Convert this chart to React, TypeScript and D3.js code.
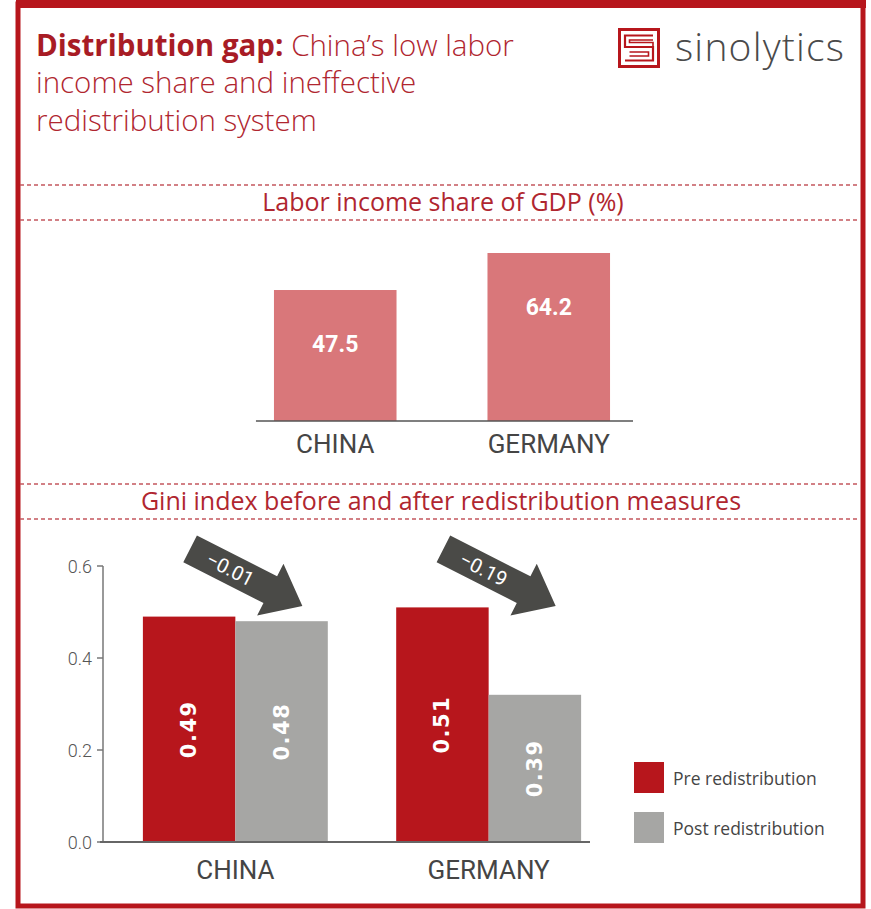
import React from "react";
import * as d3 from "d3";

const laborCountries = ["CHINA", "GERMANY"];
const laborShare = [47.5, 64.2];
const laborLabels = ["47.5", "64.2"];

const giniCountries = ["CHINA", "GERMANY"];
const seriesKeys = ["pre", "post"];
const seriesNames = ["Pre redistribution", "Post redistribution"];
const giniPre = [0.49, 0.51];
const giniPost = [0.48, 0.32];
const giniPreLabels = ["0.49", "0.51"];
const giniPostLabels = ["0.48", "0.39"];
const changeLabels = ["\u22120.01", "\u22120.19"];
const giniTicks = [0, 0.2, 0.4, 0.6];

const RED = "#b7161c";
const TITLE_RED = "#b0262f";
const GREY_BAR = "#a6a6a4";
const PINK = "#d9777a";
const TXT = "#454545";
const ARROW = "#4a4a47";
const SANS = "'Open Sans', sans-serif";

export default function App() {
  const W = 871;
  const H = 909;

  // top chart
  const xTop = d3.scaleBand().domain(laborCountries).range([183, 701]).paddingInner(0.426).paddingOuter(0.426);
  const yTop = d3.scaleLinear().domain([-11.6, 64.2]).range([421, 253]);
  const topBase = yTop(-11.6);
  const bwTop = xTop.bandwidth();

  // bottom chart
  const x0 = d3.scaleBand().domain(giniCountries).range([74.5, 649.5]).paddingInner(0.27).paddingOuter(0.27);
  const x1 = d3.scaleBand().domain(seriesKeys).range([0, x0.bandwidth()]).padding(0);
  const y = d3.scaleLinear().domain([0, 0.6]).range([842, 566]);
  const color = d3.scaleOrdinal<string, string>().domain(seriesKeys).range([RED, GREY_BAR]);
  const axisX = 103;

  const giniRows = giniCountries.map((c, i) => ({
    country: c,
    values: [
      { key: "pre", v: giniPre[i], label: giniPreLabels[i] },
      { key: "post", v: giniPost[i], label: giniPostLabels[i] },
    ],
  }));

  const arrowPath = "M-62,-15 L28,-15 L28,-29 L64,0 L28,29 L28,15 L-62,15 Z";

  return (
    <svg width={W} height={H} style={{ position: "absolute", left: 0, top: 0, background: "#fff" }}>
      <rect x={0} y={0} width={W} height={H} fill="#fff" />
      {/* frame */}
      <rect x={18} y={4} width={845} height={902} fill="none" stroke={RED} strokeWidth={5} />
      <rect x={16} y={0} width={850} height={8} fill={RED} />

      {/* title */}
      <text x={36} y={56} fontFamily={SANS} fontSize={29.5} fontWeight={300} fill={TITLE_RED}>
        <tspan fontWeight={700} fill="#a81c25">Distribution gap: </tspan>
        <tspan>China’s low labor</tspan>
      </text>
      <text x={36} y={93} fontFamily={SANS} fontSize={29.5} fontWeight={300} fill={TITLE_RED}>
        income share and ineffective
      </text>
      <text x={36} y={131} fontFamily={SANS} fontSize={29.5} fontWeight={300} fill={TITLE_RED}>
        redistribution system
      </text>

      {/* logo */}
      <g>
        <rect x={619.5} y={29.5} width={39} height={37} fill="none" stroke={RED} strokeWidth={3} />
        <path d="M653,35.5 H625 V47 H653 V60.5 H625" fill="none" stroke={RED} strokeWidth={2.2} />
        <path d="M653,40 H629.5 V42.5 H653 V52 H653 M629.5,56 H648.5 V52 H629.5" fill="none" stroke={RED} strokeWidth={1.6} />
        <text x={675} y={61} fontFamily={SANS} fontWeight={300} fontSize={39} letterSpacing={1.2} fill="#4a4a4a">
          sinolytics
        </text>
      </g>

      {/* dashed separators */}
      {[185, 220, 484, 519].map((yy) => (
        <line key={yy} x1={20} x2={860} y1={yy} y2={yy} stroke="#c4575d" strokeWidth={1.3} strokeDasharray="4 3" />
      ))}
      <text x={443} y={211} textAnchor="middle" fontFamily={SANS} fontWeight={500} fontSize={25} fill={TITLE_RED}>
        Labor income share of GDP (%)
      </text>
      <text x={441} y={510} textAnchor="middle" fontFamily={SANS} fontWeight={500} fontSize={25} fill={TITLE_RED}>
        Gini index before and after redistribution measures
      </text>

      {/* top chart */}
      {laborCountries.map((c, i) => {
        const x = xTop(c)!;
        const top = yTop(laborShare[i]);
        return (
          <g key={c}>
            <rect x={x} y={top} width={bwTop} height={topBase - top} fill={PINK} />
            <text
              x={x + bwTop / 2}
              y={top + 54}
              textAnchor="middle"
              dominantBaseline="central"
              fontFamily="Roboto, sans-serif"
              fontWeight={700}
              fontSize={23}
              fill="#fff"
            >
              {laborLabels[i]}
            </text>
            <text
              x={x + bwTop / 2}
              y={453}
              textAnchor="middle"
              fontFamily="Roboto, sans-serif"
              fontSize={26}
              fill={TXT}
            >
              {c}
            </text>
          </g>
        );
      })}
      <line
        x1={xTop(laborCountries[0])! - 18}
        x2={xTop(laborCountries[1])! + bwTop + 23}
        y1={topBase}
        y2={topBase}
        stroke="#555"
        strokeWidth={1.5}
      />

      {/* bottom chart axis */}
      <line x1={axisX} x2={axisX} y1={y(0.6)} y2={y(0)} stroke="#777" strokeWidth={1.5} />
      {giniTicks.map((t) => (
        <g key={t}>
          <line x1={axisX - 6} x2={axisX} y1={y(t)} y2={y(t)} stroke="#777" strokeWidth={1.5} />
          <text
            x={axisX - 11}
            y={y(t)}
            textAnchor="end"
            dominantBaseline="central"
            fontFamily="Roboto, sans-serif"
            fontWeight={300}
            fontSize={18}
            fill="#555"
          >
            {t.toFixed(1)}
          </text>
        </g>
      ))}

      {/* bars */}
      {giniRows.map((row, i) => {
        const gx = x0(row.country)!;
        const cx = gx + x0.bandwidth() / 2;
        return (
          <g key={row.country}>
            {row.values.map((d) => {
              const bx = gx + x1(d.key)!;
              const top = y(d.v);
              const mid = (top + y(0)) / 2;
              return (
                <g key={d.key}>
                  <rect x={bx} y={top} width={x1.bandwidth()} height={y(0) - top} fill={color(d.key)} />
                  <text
                    transform={`translate(${bx + x1.bandwidth() / 2},${mid}) rotate(-90)`}
                    textAnchor="middle"
                    dominantBaseline="central"
                    fontFamily="DejaVu Sans, sans-serif"
                    fontWeight={700}
                    fontSize={21}
                    letterSpacing={1.5}
                    fill="#fff"
                  >
                    {d.label}
                  </text>
                </g>
              );
            })}
            <text x={cx} y={879} textAnchor="middle" fontFamily="Roboto, sans-serif" fontSize={26} fill={TXT}>
              {row.country}
            </text>
            <g transform={`translate(${cx + 10},${577}) rotate(27)`}>
              <path d={arrowPath} fill={ARROW} />
              <text
                x={-17}
                y={0}
                textAnchor="middle"
                dominantBaseline="central"
                fontFamily="Roboto, sans-serif"
                fontWeight={400}
                fontSize={20}
                fill="#fff"
              >
                {changeLabels[i]}
              </text>
            </g>
          </g>
        );
      })}
      <line x1={axisX - 3} x2={590} y1={y(0)} y2={y(0)} stroke="#666" strokeWidth={2} />

      {/* legend */}
      {seriesKeys.map((k, i) => (
        <g key={k} transform={`translate(634,${762 + i * 50})`}>
          <rect x={0} y={0} width={30} height={31} fill={color(k)} />
          <text x={39} y={16} dominantBaseline="central" fontFamily={SANS} fontWeight={400} fontSize={17.5} fill={TXT}>
            {seriesNames[i]}
          </text>
        </g>
      ))}
    </svg>
  );
}
